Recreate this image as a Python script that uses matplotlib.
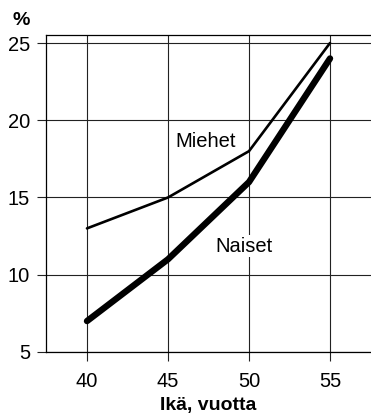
import matplotlib.pyplot as plt

plt.rcParams['font.family'] = ['Liberation Sans', 'DejaVu Sans']

ika = [40, 45, 50, 55]
miehet = [13, 15, 18, 25]
naiset = [7, 11, 16, 24]
y_ticks = [5, 10, 15, 20, 25]

fig = plt.figure(figsize=(3.71, 4.19), dpi=100)
ax = fig.add_axes([0.124, 0.160, 0.876, 0.7565])

ax.plot(ika, miehet, color='black', lw=1.9, solid_capstyle='round', zorder=3)
ax.plot(ika, naiset, color='black', lw=4.6, solid_capstyle='round', zorder=3)

ax.text(47.35, 18.3, 'Miehet', fontsize=14.5, ha='center', va='baseline',
        bbox=dict(facecolor='white', edgecolor='none', pad=1), zorder=2)
ax.text(49.7, 11.5, 'Naiset', fontsize=14.5, ha='center', va='baseline',
        bbox=dict(facecolor='white', edgecolor='none', pad=1), zorder=2)

ax.set_xlim(37.47, 57.53)
ax.set_ylim(5, 25.52)
ax.set_xticks(ika)
ax.set_yticks(y_ticks)
ax.grid(True, color='#222222', lw=0.8, zorder=1)
ax.set_axisbelow(True)
ax.tick_params(direction='out', length=6.5, width=0.8, labelsize=14.5, color='#222222')
ax.tick_params(axis='x', pad=8)
ax.tick_params(axis='y', pad=5)
for s in ax.spines.values():
    s.set_linewidth(0.9)
ax.spines['right'].set_visible(False)

ax.set_xlabel('Ikä, vuotta', fontsize=14, fontweight='bold', labelpad=4)
fig.text(0.034, 0.940, '%', fontsize=14, fontweight='bold')

fig.savefig('out.png', dpi=100)
